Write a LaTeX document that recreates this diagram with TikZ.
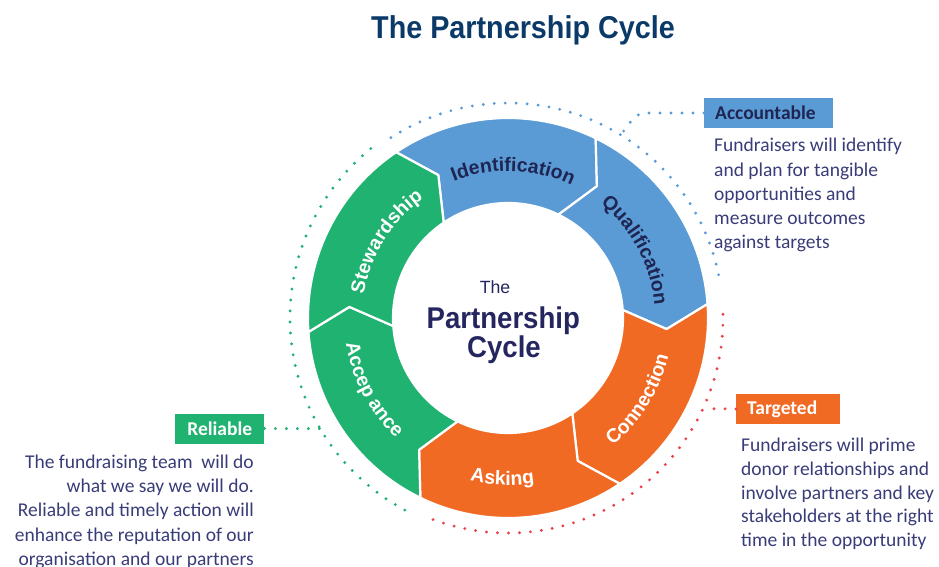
\documentclass[tikz,border=0pt]{standalone}
\usepackage{fontspec}
\setmainfont{Liberation Sans}
\newfontfamily\bodyfont{Carlito}
\usetikzlibrary{decorations.text,calc}

\definecolor{segBlue}{HTML}{5B9BD5}
\definecolor{segGreen}{HTML}{20B270}
\definecolor{segOrange}{HTML}{F16A24}
\definecolor{dotRed}{HTML}{E8434A}
\definecolor{labelNavy}{HTML}{1F2552}
\definecolor{bodyText}{HTML}{393C78}
\definecolor{titleNavy}{HTML}{0B3A68}
\definecolor{hubText}{HTML}{252660}

\newcommand\seglabelfont{\fontsize{19.5}{19.5}\selectfont\bfseries}

\tikzset{
  ringseg/.style={fill=#1, draw=white, line width=2.2pt, line join=round},
  dotline/.style={draw=#1, line width=3.2pt, line cap=round, dash pattern=on 0pt off 11pt},
  tagbox/.style={fill=#1, minimum height=30pt, inner xsep=11pt, inner ysep=0pt, anchor=west,
    font=\bodyfont\bfseries\fontsize{19.5}{19.5}\selectfont},
  bodyline/.style={font=\bodyfont\fontsize{19.5}{24}\selectfont, text=bodyText, inner sep=0pt},
  arclabel/.style 2 args={decorate, decoration={text along path, text align=center,
    text color=#1, text={|\seglabelfont|#2}}},
}

\begin{document}
\begin{tikzpicture}[x=1pt,y=1pt]
\path[use as bounding box] (0,0) rectangle (939,566);
\clip (0,0) rectangle (939,566);

% title
\node[anchor=base, text=titleNavy, inner sep=0pt] (title) at (523,527)
  {\scalebox{0.91}[1]{\fontsize{31.6}{31.6}\selectfont\bfseries The Partnership Cycle}};

\coordinate (C) at (508,248);

% ring of six chevron segments
\begin{scope}[shift={(C)}]
\foreach \s/\col in {124/segBlue,64/segBlue,4/segOrange,-56/segOrange,-116/segGreen,-176/segGreen}{
  \pgfmathsetmacro\e{\s-60}
  \pgfmathsetmacro\et{\s-68}
  \pgfmathsetmacro\st{\s-8}
  \path[ringseg=\col] (\s:200) arc[start angle=\s, end angle=\e, radius=200]
    -- (\et:159) -- (\e:115) arc[start angle=\e, end angle=\s, radius=115]
    -- (\st:159) -- cycle;
}

% segment labels, upper half read clockwise, lower half counter-clockwise
\path[arclabel={labelNavy}{Identification}] (133:147) arc[start angle=133, end angle=43, radius=147];
\path[arclabel={labelNavy}{Qualification}] (73:147) arc[start angle=73, end angle=-17, radius=147];
\path[arclabel={white}{Stewardship}] (193:146) arc[start angle=193, end angle=103, radius=146];
\path[arclabel={white}{Connection}] (-77:165) arc[start angle=-77, end angle=13, radius=165];
\path[arclabel={white}{Asking}] (-137:167) arc[start angle=-137, end angle=-47, radius=167];
\path[arclabel={white}{Accep ance}] (-197:164) arc[start angle=-197, end angle=-107, radius=164];

% dotted outer arcs
\draw[dotline=segBlue] (123:215) arc[start angle=123, end angle=10, radius=215];
\draw[dotline=segGreen] (129:218) arc[start angle=129, end angle=242, radius=218];
\draw[dotline=dotRed] (1:215) arc[start angle=1, end angle=-111, radius=215];

\coordinate (blueJoin) at (58.5:215);
\coordinate (greenJoin) at (210.5:218);
\coordinate (redJoin) at (-24.9:215);
\end{scope}

% hub text
\node[anchor=base, text=hubText, inner sep=0pt, font=\fontsize{17.7}{17.7}\selectfont] (hubThe) at (495,272.7) {The};
\node[anchor=base, text=hubText, inner sep=0pt] (hubPartner) at (503.3,237.7)
  {\scalebox{0.92}[1]{\fontsize{30}{30}\selectfont\bfseries Partnership}};
\node[anchor=base, text=hubText, inner sep=0pt] (hubCycle) at (504,208.7)
  {\scalebox{0.92}[1]{\fontsize{30}{30}\selectfont\bfseries Cycle}};

% value tags
\node[tagbox=segBlue, text=labelNavy, text width=107pt, align=left] (acc) at (704,453) {Accountable};
\node[tagbox=segOrange, text=white, text width=82pt, align=left] (tar) at (736,157) {Targeted};
\node[tagbox=segGreen, text=white, minimum width=89pt] (rel) at (175,137.5) {Reliable};

% leaders from tags to the arcs
\draw[dotline=segBlue] (acc.west) -- ++(-58,0) to[out=180, in=45] (blueJoin);
\draw[dotline=segGreen] (rel.east) -- (greenJoin);
\draw[dotline=dotRed] (tar.west) -- (redJoin);

% descriptions
\node[bodyline, anchor=base west] (acc1) at (714,414) {Fundraisers will identify};
\node[bodyline, anchor=base west] (acc2) at (714,389.5) {and plan for tangible};
\node[bodyline, anchor=base west] (acc3) at (714,366) {opportunities and};
\node[bodyline, anchor=base west] (acc4) at (714,342) {measure outcomes};
\node[bodyline, anchor=base west] (acc5) at (714,318) {against targets};

\node[bodyline, anchor=base west] (tar1) at (741,115) {Fundraisers will prime};
\node[bodyline, anchor=base west] (tar2) at (741,91) {donor relationships and};
\node[bodyline, anchor=base west] (tar3) at (741,67) {involve partners and key};
\node[bodyline, anchor=base west] (tar4) at (741,44) {stakeholders at the right};
\node[bodyline, anchor=base west] (tar5) at (741,20) {time in the opportunity};

\node[bodyline, anchor=base east] (rel1) at (254,98) {The fundraising team\ \ will do};
\node[bodyline, anchor=base east] (rel2) at (254,74) {what we say we will do.};
\node[bodyline, anchor=base east] (rel3) at (254,50) {Reliable and timely action will};
\node[bodyline, anchor=base east] (rel4) at (254,25) {enhance the reputation of our};
\node[bodyline, anchor=base east] (rel5) at (254,1) {organisation and our partners};
\end{tikzpicture}
\end{document}
